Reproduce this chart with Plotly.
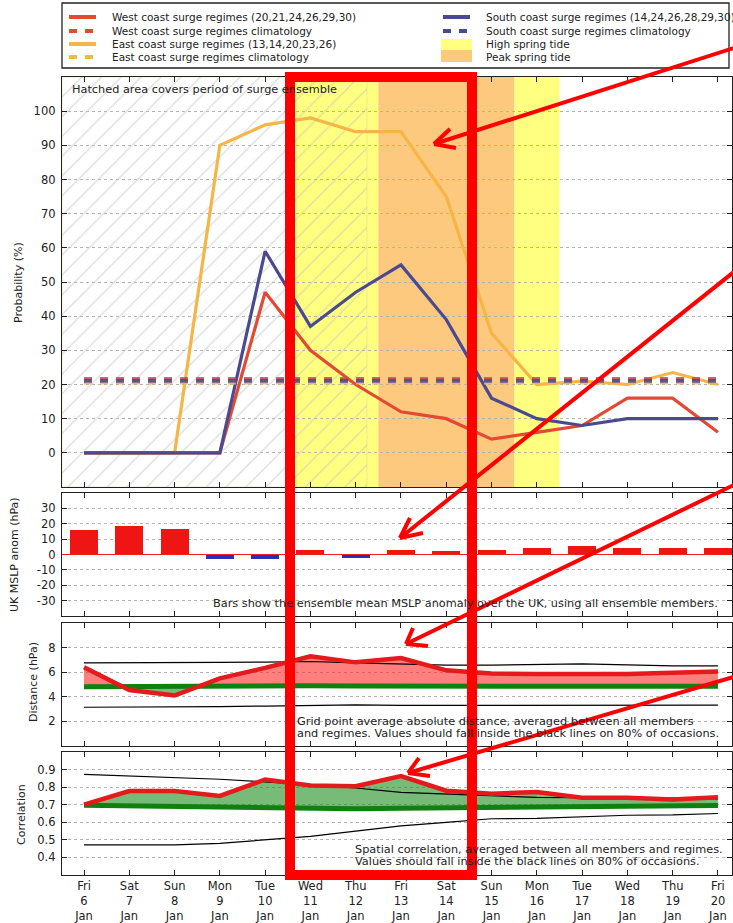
import plotly.graph_objects as go

W, H = 733, 923

# ---------------- data ----------------
day_names = ["Fri", "Sat", "Sun", "Mon", "Tue", "Wed", "Thu", "Fri", "Sat", "Sun", "Mon", "Tue", "Wed", "Thu", "Fri"]
day_nums = [6, 7, 8, 9, 10, 11, 12, 13, 14, 15, 16, 17, 18, 19, 20]
month = "Jan"
x = list(range(len(day_nums)))

west = [0, 0, 0, 0, 47, 30, 20, 12, 10, 4, 6, 8, 16, 16, 6]
east = [0, 0, 0, 90, 96, 98, 94, 94, 75, 35, 20, 21, 20, 23.5, 20]
south = [0, 0, 0, 0, 59, 37, 47, 55, 39, 16, 10, 8, 10, 10, 10]
east_clim = 20.6
south_clim = 21.1
west_clim = 21.6

high_tide = [(4.5, 6.5), (9.5, 10.5)]
peak_tide = [(6.5, 9.5)]
hatch_end = 6.25

mslp = [16, 18.5, 16.5, -3, -3, 3, -2, 3, 2, 3, 4.5, 5.5, 4.5, 4, 4]

dist = [6.4, 4.55, 4.1, 5.5, 6.35, 7.3, 6.8, 7.15, 6.15, 5.9, 5.85, 5.85, 5.85, 5.95, 6.05]
dist_ref = [4.82, 4.85, 4.85, 4.88, 4.9, 4.9, 4.88, 4.86, 4.84, 4.82, 4.84, 4.85, 4.85, 4.85, 4.85]
dist_hi = [6.75, 6.75, 6.76, 6.8, 6.82, 6.87, 6.75, 6.65, 6.58, 6.58, 6.65, 6.68, 6.6, 6.52, 6.52]
dist_lo = [3.15, 3.15, 3.15, 3.2, 3.25, 3.3, 3.35, 3.3, 3.3, 3.3, 3.32, 3.32, 3.32, 3.32, 3.32]

corr = [0.70, 0.778, 0.778, 0.75, 0.843, 0.81, 0.805, 0.863, 0.78, 0.763, 0.772, 0.74, 0.74, 0.73, 0.743]
corr_ref = [0.697, 0.693, 0.69, 0.685, 0.68, 0.677, 0.677, 0.68, 0.682, 0.685, 0.687, 0.69, 0.692, 0.694, 0.695]
corr_hi = [0.873, 0.865, 0.855, 0.845, 0.83, 0.812, 0.795, 0.77, 0.76, 0.75, 0.742, 0.74, 0.74, 0.737, 0.733]
corr_lo = [0.472, 0.472, 0.472, 0.48, 0.5, 0.52, 0.55, 0.58, 0.6, 0.62, 0.622, 0.63, 0.64, 0.642, 0.65]

x_labels = [f"{d}<br>{n}<br>{month}" for d, n in zip(day_names, day_nums)]

# ---------------- style ----------------
FONT = "DejaVu Sans"
TXT = "#222222"
C_WEST = "#e34a33"
C_EAST = "#f6b547"
C_SOUTH = "#4a4a90"
C_HIGH = "#ffff80"
C_PEAK = "#fcc97e"
C_RED = "#e41a1c"
C_GREEN = "#108010"
X_RANGE = [-0.486, 14.31]
NOTE_SIZE = 11.3
LEG_SIZE = 10.5


def px(xp, yp):
    return xp / W, 1 - yp / H


def dom(top, bottom):
    return [1 - bottom / H, 1 - top / H]


fig = go.Figure()

# ---------- top panel ----------
fig.add_trace(go.Scatter(
    x=[X_RANGE[0], hatch_end, hatch_end, X_RANGE[0], X_RANGE[0]],
    y=[-10, -10, 110, 110, -10], mode="lines", fill="toself",
    fillcolor="rgba(0,0,0,0)",
    fillpattern=dict(shape="/", fgcolor="#bdbdbd", bgcolor="rgba(0,0,0,0)", size=14, solidity=0.1),
    line=dict(width=0.6, color="#dddd99"), hoverinfo="skip", showlegend=False,
    xaxis="x", yaxis="y"))

for series, col in [(east, C_EAST), (west, C_WEST), (south, C_SOUTH)]:
    fig.add_trace(go.Scatter(x=x, y=series, mode="lines",
                             line=dict(color=col, width=3.2), showlegend=False,
                             xaxis="x", yaxis="y"))
for val, col in [(east_clim, C_EAST), (west_clim, C_WEST), (south_clim, C_SOUTH)]:
    fig.add_trace(go.Scatter(x=[x[0], x[-1]], y=[val, val], mode="lines",
                             line=dict(color=col, width=4, dash="8px,8px"), opacity=0.85,
                             showlegend=False, xaxis="x", yaxis="y"))

# ---------- bar panel ----------
fig.add_trace(go.Bar(x=x, y=mslp, width=0.62,
                     marker=dict(color=[("#f01515" if v >= 0 else "#2d2db5") for v in mslp], line=dict(width=0)),
                     showlegend=False, xaxis="x2", yaxis="y2"))


# ---------- fill helper ----------
def with_crossings(xs, a, b):
    ox, oa, ob = [xs[0]], [a[0]], [b[0]]
    for i in range(1, len(xs)):
        d0 = a[i - 1] - b[i - 1]
        d1 = a[i] - b[i]
        if d0 * d1 < 0:
            t = d0 / (d0 - d1)
            xc = xs[i - 1] + t * (xs[i] - xs[i - 1])
            yc = b[i - 1] + t * (b[i] - b[i - 1])
            ox.append(xc); oa.append(yc); ob.append(yc)
        ox.append(xs[i]); oa.append(a[i]); ob.append(b[i])
    return ox, oa, ob


def add_fill(a, b, col_above, col_below, xa, ya):
    fx, fa, fb = with_crossings(x, a, b)
    upper = [max(p, q) for p, q in zip(fa, fb)]
    lower = [min(p, q) for p, q in zip(fa, fb)]
    fig.add_trace(go.Scatter(x=fx, y=fb, mode="lines", line=dict(width=0), showlegend=False,
                             hoverinfo="skip", xaxis=xa, yaxis=ya))
    fig.add_trace(go.Scatter(x=fx, y=upper, mode="lines", line=dict(width=0), fill="tonexty",
                             fillcolor=col_above, showlegend=False, hoverinfo="skip", xaxis=xa, yaxis=ya))
    fig.add_trace(go.Scatter(x=fx, y=fb, mode="lines", line=dict(width=0), showlegend=False,
                             hoverinfo="skip", xaxis=xa, yaxis=ya))
    fig.add_trace(go.Scatter(x=fx, y=lower, mode="lines", line=dict(width=0), fill="tonexty",
                             fillcolor=col_below, showlegend=False, hoverinfo="skip", xaxis=xa, yaxis=ya))


FILL_RED = "rgba(255,40,40,0.6)"
FILL_GREEN = "rgba(30,140,30,0.6)"

# ---------- distance panel ----------
add_fill(dist, dist_ref, FILL_RED, FILL_GREEN, "x3", "y3")
fig.add_trace(go.Scatter(x=x, y=dist_ref, mode="lines", line=dict(color=C_GREEN, width=5),
                         showlegend=False, xaxis="x3", yaxis="y3"))
for s in (dist_hi, dist_lo):
    fig.add_trace(go.Scatter(x=x, y=s, mode="lines", line=dict(color="black", width=1.2),
                             showlegend=False, xaxis="x3", yaxis="y3"))
fig.add_trace(go.Scatter(x=x, y=dist, mode="lines", line=dict(color=C_RED, width=4.5),
                         showlegend=False, xaxis="x3", yaxis="y3"))

# ---------- correlation panel ----------
add_fill(corr, corr_ref, FILL_GREEN, FILL_RED, "x4", "y4")
fig.add_trace(go.Scatter(x=x, y=corr_ref, mode="lines", line=dict(color=C_GREEN, width=5),
                         showlegend=False, xaxis="x4", yaxis="y4"))
for s in (corr_hi, corr_lo):
    fig.add_trace(go.Scatter(x=x, y=s, mode="lines", line=dict(color="black", width=1.2),
                             showlegend=False, xaxis="x4", yaxis="y4"))
fig.add_trace(go.Scatter(x=x, y=corr, mode="lines", line=dict(color=C_RED, width=4.5),
                         showlegend=False, xaxis="x4", yaxis="y4"))

# ---------- axes ----------
xdom = [62 / W, 732 / W]
base = dict(showline=True, linecolor="#222222", linewidth=1.3, mirror="ticks", ticks="inside",
            ticklen=5, tickcolor="#222222", zeroline=False,
            tickfont=dict(family=FONT, size=11.5, color=TXT))


def xax(anchor, labels):
    d = dict(base, domain=xdom, range=X_RANGE, anchor=anchor, tickmode="array", tickvals=x,
             showgrid=False, showticklabels=labels)
    if labels:
        d["ticktext"] = x_labels
    return d


def yax(anchor, domain, rng, vals, text=None):
    d = dict(base, domain=domain, range=rng, anchor=anchor, tickmode="array", tickvals=vals,
             showgrid=True, gridcolor="#b4b4b4", griddash="dot", gridwidth=1, ticklabelstandoff=3)
    if text is not None:
        d["ticktext"] = text
    return d


bar_vals = [30, 20, 10, 0, -10, -20, -30]
fig.update_layout(
    xaxis=xax("y", False),
    yaxis=yax("x", dom(77, 487), [-10, 110], list(range(0, 101, 10))),
    xaxis2=xax("y2", False),
    yaxis2=yax("x2", dom(493, 616), [-40, 40], bar_vals, [str(v) for v in bar_vals]),
    xaxis3=xax("y3", False),
    yaxis3=yax("x3", dom(623, 746), [0, 10], [2, 4, 6, 8]),
    xaxis4=xax("y4", True),
    yaxis4=yax("x4", dom(752, 875), [0.3, 1.0], [0.4, 0.5, 0.6, 0.7, 0.8, 0.9]),
)

shapes = []
# tide bands
for a, b in high_tide:
    shapes.append(dict(type="rect", xref="x", yref="y domain", x0=a, x1=b, y0=0, y1=1,
                       fillcolor=C_HIGH, line=dict(width=0), layer="below"))
for a, b in peak_tide:
    shapes.append(dict(type="rect", xref="x", yref="y domain", x0=a, x1=b, y0=0, y1=1,
                       fillcolor=C_PEAK, line=dict(width=0), layer="below"))
# zero line in bar panel
shapes.append(dict(type="line", xref="x2 domain", yref="y2", x0=0, x1=1, y0=0, y1=0,
                   line=dict(color="#ee2020", width=1)))

# legend box
x0, y0 = px(62, 3)
x1, y1 = px(729, 68)
shapes.append(dict(type="rect", xref="paper", yref="paper", x0=x0, x1=x1, y0=y1, y1=y0,
                   line=dict(color="#222222", width=1.3), fillcolor="white"))
rows = [17, 31, 44, 57]
leg = [
    (69, rows[0], C_WEST, "solid", "West coast surge regimes (20,21,24,26,29,30)"),
    (69, rows[1], C_WEST, "dash", "West coast surge regimes climatology"),
    (69, rows[2], C_EAST, "solid", "East coast surge regimes (13,14,20,23,26)"),
    (69, rows[3], C_EAST, "dash", "East coast surge regimes climatology"),
    (443, rows[0], C_SOUTH, "solid", "South coast surge regimes (14,24,26,28,29,30)"),
    (443, rows[1], C_SOUTH, "dash", "South coast surge regimes climatology"),
]
annotations = []
for lx, ly, col, kind, label in leg:
    a0, b0 = px(lx, ly)
    a1, _ = px(lx + 27, ly)
    shapes.append(dict(type="line", xref="paper", yref="paper", x0=a0, x1=a1, y0=b0, y1=b0,
                       line=dict(color=col, width=4, dash=("solid" if kind == "solid" else "8px,8px"))))
    tx, ty = px(lx + 41, ly)
    annotations.append(dict(x=tx, y=ty, xref="paper", yref="paper", text=label, showarrow=False,
                            xanchor="left", yanchor="middle", font=dict(family=FONT, size=LEG_SIZE, color=TXT)))
for (ya, yb, col, label, ty) in [(39, 50, C_HIGH, "High spring tide", rows[2]),
                                  (50, 62, C_PEAK, "Peak spring tide", rows[3])]:
    a0, b0 = px(441, ya)
    a1, b1 = px(472, yb)
    shapes.append(dict(type="rect", xref="paper", yref="paper", x0=a0, x1=a1, y0=b1, y1=b0,
                       fillcolor=col, line=dict(width=0)))
    tx, tyy = px(484, ty)
    annotations.append(dict(x=tx, y=tyy, xref="paper", yref="paper", text=label, showarrow=False,
                            xanchor="left", yanchor="middle", font=dict(family=FONT, size=LEG_SIZE, color=TXT)))


def note(text, xp, yp, anchor="left", size=NOTE_SIZE):
    a, b = px(xp, yp)
    annotations.append(dict(x=a, y=b, xref="paper", yref="paper", text=text, showarrow=False,
                            xanchor=anchor, yanchor="middle", font=dict(family=FONT, size=size, color=TXT)))


note("Hatched area covers period of surge ensemble", 70, 90)
note("Bars show the ensemble mean MSLP anomaly over the UK, using all ensemble members.", 720, 603, "right")
note("Grid point average absolute distance, averaged between all members", 295, 721)
note("and regimes. Values should fall inside the black lines on 80% of occasions.", 295, 733)
note("Spatial correlation, averaged between all members and regimes.", 353, 849)
note("Values should fall inside the black lines on 80% of occasions.", 353, 861)


def ytitle(text, xp, yp):
    a, b = px(xp, yp)
    annotations.append(dict(x=a, y=b, xref="paper", yref="paper", text=text, showarrow=False,
                            textangle=-90, xanchor="center", yanchor="middle",
                            font=dict(family=FONT, size=11, color=TXT)))


ytitle("Probability (%)", 18, 283)
ytitle("UK MSLP anom (hPa)", 14, 555)
ytitle("Distance (hPa)", 33, 682)
ytitle("Correlation", 21, 815)

# ---------- red overlay markings ----------
RED = "#ff0000"
ra, rb = px(290, 77)
rc, rd = px(472, 875)
shapes.append(dict(type="rect", xref="paper", yref="paper", x0=ra, x1=rc, y0=rd, y1=rb,
                   line=dict(color=RED, width=10)))
arrows = [
    ((740, 46), (434, 144), [(456, 148), (450, 129)]),
    ((740, 267), (400, 538), [(423, 533), (410, 518)]),
    ((740, 482), (406, 644), [(428, 646), (413, 628)]),
    ((740, 675), (408, 773), [(430, 776), (419, 758)]),
]
for start, tip, wings in arrows:
    sa, sb = px(*start)
    ta, tb = px(*tip)
    shapes.append(dict(type="line", xref="paper", yref="paper", x0=sa, y0=sb, x1=ta, y1=tb,
                       line=dict(color=RED, width=4)))
    for w in wings:
        wa, wb = px(*w)
        shapes.append(dict(type="line", xref="paper", yref="paper", x0=ta, y0=tb, x1=wa, y1=wb,
                           line=dict(color=RED, width=4)))

fig.update_layout(
    width=W, height=H, autosize=False,
    margin=dict(l=0, r=0, t=0, b=0),
    paper_bgcolor="white", plot_bgcolor="white",
    showlegend=False, bargap=0,
    font=dict(family=FONT, color=TXT),
    shapes=shapes, annotations=annotations,
)

fig.write_html("out.html", config={"displayModeBar": False},
               post_script="document.body.style.margin='0px';document.body.style.overflow='hidden';")
